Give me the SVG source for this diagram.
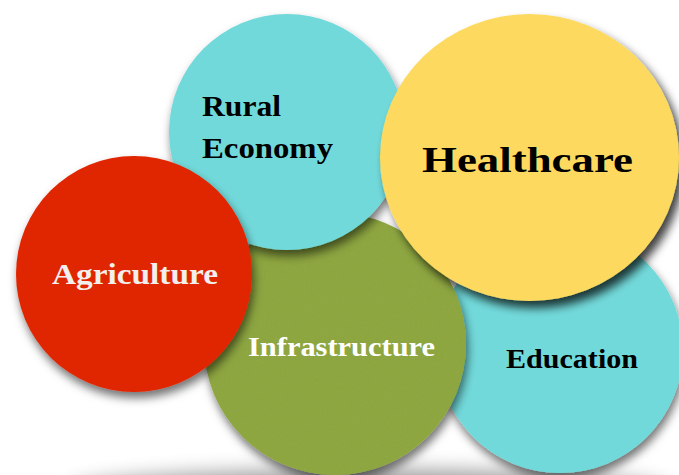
<svg xmlns="http://www.w3.org/2000/svg" width="679" height="475" viewBox="0 0 679 475">
  <defs>
    <!-- soft drop shadow shared by the circles -->
    <filter id="shadow" x="-20%" y="-20%" width="140%" height="145%">
      <feDropShadow dx="2" dy="6" stdDeviation="5" flood-color="#000" flood-opacity="0.55"/>
    </filter>
    <!-- heavier shadow for the front circle -->
    <filter id="shadowStrong" x="-20%" y="-20%" width="145%" height="145%">
      <feDropShadow dx="5" dy="7" stdDeviation="5" flood-color="#000" flood-opacity="0.75"/>
    </filter>
    <!-- grainy surface plus drop shadow -->
    <filter id="grain" x="-20%" y="-20%" width="140%" height="145%">
      <feTurbulence type="fractalNoise" baseFrequency="0.45" numOctaves="2" seed="4" result="noise"/>
      <feColorMatrix in="noise" type="matrix" values="0 0 0 0 0.35  0 0 0 0 0.42  0 0 0 0 0.12  0.45 0 0 0 -0.2" result="tint"/>
      <feComposite in="tint" in2="SourceGraphic" operator="in" result="speckle"/>
      <feGaussianBlur in="SourceAlpha" stdDeviation="5" result="blur"/>
      <feOffset in="blur" dx="2" dy="6" result="off"/>
      <feFlood flood-color="#000" flood-opacity="0.55"/>
      <feComposite in2="off" operator="in" result="drop"/>
      <feMerge>
        <feMergeNode in="drop"/>
        <feMergeNode in="SourceGraphic"/>
        <feMergeNode in="speckle"/>
      </feMerge>
    </filter>
    <filter id="floorBlur" x="-30%" y="-200%" width="160%" height="500%">
      <feGaussianBlur stdDeviation="10"/>
    </filter>
  </defs>
  <style>
    .label { font-family: "Liberation Serif", "Times New Roman", serif; font-weight: bold; }
    .dark { fill: #000000; }
    .light { fill: #f2efee; }
    .white { fill: #ffffff; }
    .cyan { fill: #72d9da; }
    .red { fill: #e02600; }
    .green { fill: #8da640; }
    .yellow { fill: #fdda5e; }
  </style>

  <rect width="679" height="475" fill="#ffffff"/>

  <!-- floor shadow under the cluster -->
  <ellipse cx="370" cy="492" rx="300" ry="22" fill="#000" opacity="0.4" filter="url(#floorBlur)"/>

  <g id="connectors"/>

  <g id="education">
    <circle class="cyan" cx="560" cy="350" r="123" filter="url(#shadow)"/>
    <text class="label dark" x="506" y="368" font-size="27" textLength="132" lengthAdjust="spacingAndGlyphs">Education</text>
  </g>

  <g id="infrastructure">
    <circle class="green" cx="335" cy="344" r="131" filter="url(#grain)"/>
    <text class="label white" x="248" y="356" font-size="27" textLength="187" lengthAdjust="spacingAndGlyphs">Infrastructure</text>
  </g>

  <g id="rural-economy">
    <circle class="cyan" cx="287" cy="132" r="118" filter="url(#shadow)"/>
    <text class="label dark" x="202" y="116" font-size="29" textLength="79" lengthAdjust="spacingAndGlyphs">Rural</text>
    <text class="label dark" x="202" y="158" font-size="29" textLength="131" lengthAdjust="spacingAndGlyphs">Economy</text>
  </g>

  <g id="agriculture">
    <circle class="red" cx="134" cy="274" r="118" filter="url(#shadow)"/>
    <text class="label light" x="52" y="284" font-size="30" textLength="166" lengthAdjust="spacingAndGlyphs">Agriculture</text>
  </g>

  <g id="healthcare">
    <ellipse class="yellow" cx="529.5" cy="157.5" rx="149.5" ry="143.5" filter="url(#shadowStrong)"/>
    <text class="label dark" x="422" y="172" font-size="36" textLength="211" lengthAdjust="spacingAndGlyphs">Healthcare</text>
  </g>
</svg>
